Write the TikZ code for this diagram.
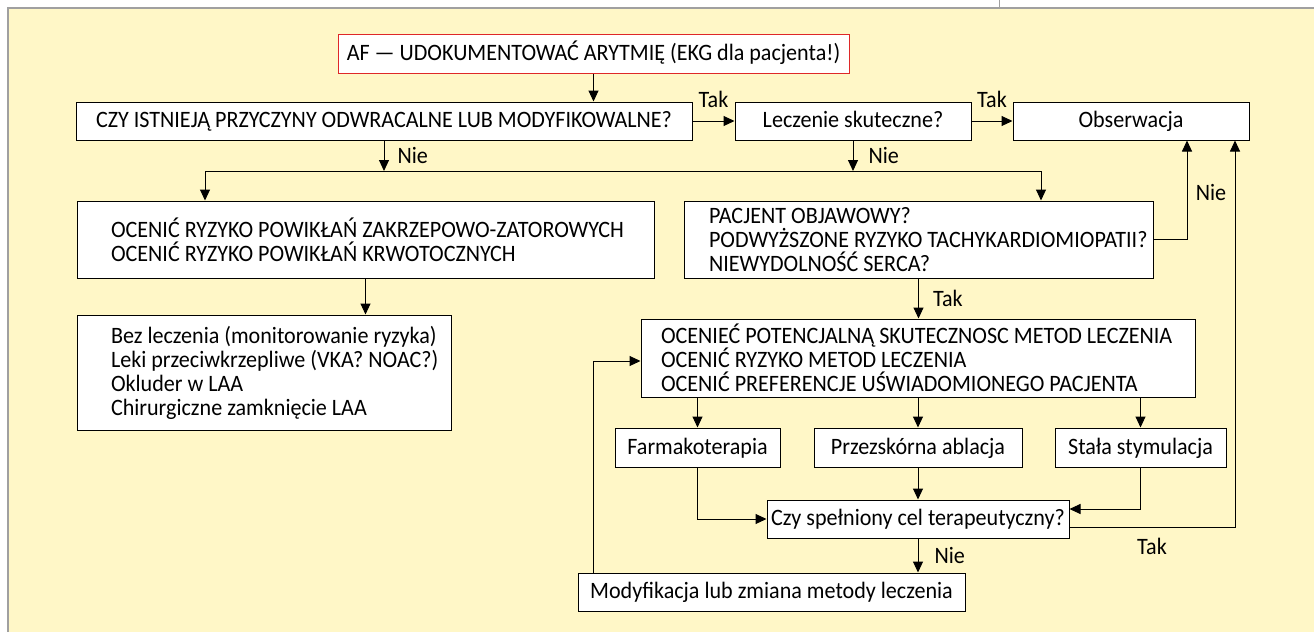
\documentclass[tikz,border=0pt]{standalone}
\usepackage{fontspec}
\setmainfont{Carlito}[FakeStretch=0.94]
\usetikzlibrary{arrows.meta}

\definecolor{panelyellow}{RGB}{255,247,199}
\definecolor{framegrey}{RGB}{160,160,160}
\definecolor{startred}{RGB}{222,40,40}

\begin{document}
\begin{tikzpicture}[
    x=1pt, y=-1pt,
    every node/.style={font=\fontsize{23.5}{24}\selectfont},
    box/.style={draw=black, fill=white, line width=1pt, inner sep=0pt, align=center, text height=17pt, text depth=4pt},
    listbox/.style={draw=black, fill=white, line width=1pt, inner ysep=0pt, align=flush left},
    arr/.style={-{Triangle[length=11pt,width=10pt]}, line width=1pt},
    lbl/.style={inner sep=0pt}
]

% Page and panel
\useasboundingbox (0,0) rectangle (1314,632);
\fill[white] (0,0) rectangle (1314,632);
\fill[panelyellow] (8,8) rectangle (1314,632);
\draw[framegrey, line width=1.2pt] (8,632) -- (8,8) -- (1314,8);
\draw[framegrey, line width=0.6pt] (999,0) -- (999,8);

% Top row
\node[box, draw=startred, minimum width=511pt, minimum height=39pt] (af) at (593.5,53.5) {AF — UDOKUMENTOWAĆ ARYTMIĘ (EKG dla pacjenta!)};
\node[box, minimum width=616pt, minimum height=38pt] (czy) at (384,121) {CZY ISTNIEJĄ PRZYCZYNY ODWRACALNE LUB MODYFIKOWALNE?};
\node[box, minimum width=236pt, minimum height=38pt] (skut) at (853,121) {Leczenie skuteczne?};
\node[box, minimum width=236pt, minimum height=38pt] (obs) at (1131,121) {Obserwacja};

% Risk branch
\node[listbox, text width=509pt, inner xsep=34pt, minimum height=77pt] (ryzyko) at (365.5,239.5)
    {\mbox{OCENIĆ RYZYKO POWIKŁAŃ ZAKRZEPOWO-ZATOROWYCH}\\OCENIĆ RYZYKO POWIKŁAŃ KRWOTOCZNYCH};
\node[listbox, text width=306pt, inner xsep=34pt, minimum height=115pt] (opcje) at (264,372.5)
    {\mbox{Bez leczenia (monitorowanie ryzyka)}\\\mbox{Leki przeciwkrzepliwe (VKA? NOAC?)}\\Okluder w LAA\\Chirurgiczne zamknięcie LAA};

% Symptom branch
\node[listbox, text width=419pt, inner xsep=25pt, minimum height=77pt] (objawy) at (918.5,239.5)
    {PACJENT OBJAWOWY?\\\mbox{PODWYŻSZONE RYZYKO TACHYKARDIOMIOPATII?}\\NIEWYDOLNOŚĆ SERCA?};
\node[listbox, text width=514pt, inner xsep=20pt, minimum height=78pt] (metody) at (918,358)
    {OCENIEĆ POTENCJALNĄ SKUTECZNOSC METOD LECZENIA\\OCENIĆ RYZYKO METOD LECZENIA\\OCENIĆ PREFERENCJE UŚWIADOMIONEGO PACJENTA};
\node[box, minimum width=165pt, minimum height=39pt] (farm) at (697.5,447.5) {Farmakoterapia};
\node[box, minimum width=208pt, minimum height=39pt] (abl) at (918,447.5) {Przezskórna ablacja};
\node[box, minimum width=171pt, minimum height=39pt] (stym) at (1140.5,447.5) {Stała stymulacja};
\node[box, minimum width=302pt, minimum height=38pt] (cel) at (918,519) {Czy spełniony cel terapeutyczny?};
\node[box, minimum width=387pt, minimum height=38pt] (zmiana) at (771.5,592) {Modyfikacja lub zmiana metody leczenia};

% Helper points
\coordinate (splitL) at (205,171);
\coordinate (splitR) at (1041,171);
\coordinate (backNie) at (1187,0);
\coordinate (backTak) at (1235,0);
\coordinate (backMod) at (593,0);

% Connectors
\draw[arr] (af) -- (af |- czy.north);
\draw[arr] (czy) -- node[lbl, above=13pt] (tak1) {Tak} (skut);
\draw[arr] (skut) -- node[lbl, above=13pt] (tak2) {Tak} (obs);
\draw[arr] (czy.south) -- (czy.south |- splitL) node[lbl, midway, right=13pt] (nie1) {Nie};
\draw[arr] (skut.south) -- (skut.south |- splitL) node[lbl, midway, right=15pt] (nie2) {Nie};
\draw[line width=1pt] (splitL) -- (splitR);
\draw[arr] (splitL) -- (splitL |- ryzyko.north);
\draw[arr] (splitR) -- (splitR |- objawy.north);
\draw[arr] (ryzyko.south) -- (ryzyko.south |- opcje.north);

\draw[arr] (objawy.east) -| (backNie |- obs.south);
\node[lbl] (nie3) at (1211,192) {Nie};
\draw[arr] (objawy.south) -- (objawy.south |- metody.north) node[lbl, midway, right=14pt] (tak3) {Tak};

\draw[arr] (farm.north |- metody.south) -- (farm.north);
\draw[arr] (abl.north |- metody.south) -- (abl.north);
\draw[arr] (stym.north |- metody.south) -- (stym.north);

\draw[arr] (farm.south) |- (cel.west);
\draw[arr] (abl) -- (cel);
\draw[arr] (stym.south) |- ([yshift=10pt]cel.east);
\draw[arr] ([yshift=-8pt]cel.east) -| (backTak |- obs.south);
\node[lbl] (tak4) at (1152,546) {Tak};

\draw[arr] (cel.south) -- (cel.south |- zmiana.north) node[lbl, midway, right=16pt] (nie4) {Nie};
\draw[arr] (backMod |- zmiana.north) |- ([yshift=-3pt]metody.west);

\end{tikzpicture}
\end{document}
